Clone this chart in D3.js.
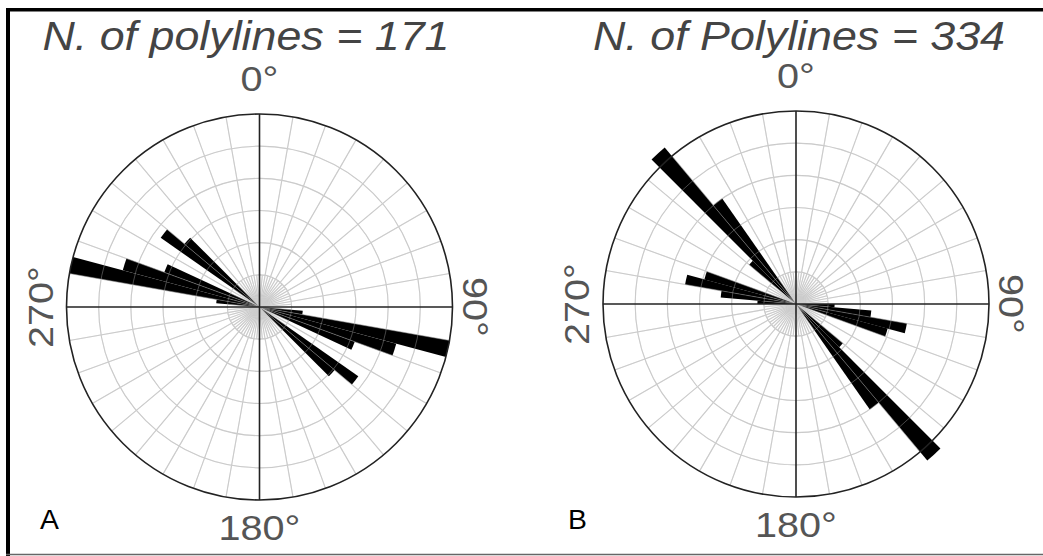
<!DOCTYPE html>
<html><head><meta charset="utf-8">
<script src="https://cdn.jsdelivr.net/npm/d3@7"></script>
<style>body{margin:0;background:#fff}svg{display:block}</style>
</head><body>
<svg id="chart" width="1043" height="556"></svg>
<script>
// Orientation frequencies in 5° bins (bin start bearing, 0–180°);
// the data are axial, so every bin is mirrored at +180°.
const binStartsA = [95, 100, 105, 110, 125, 130];
const valuesA    = [2.7, 12, 8.8, 6.3, 7.5, 6.1];
const binStartsB = [90, 95, 100, 105, 130, 135, 140];
const valuesB    = [2.4, 4.7, 7.0, 5.9, 3.8, 12.7, 8.0];
const titles = ["N. of polylines = 171", "N. of Polylines = 334"];
const panelLetters = ["A", "B"];
const directionLabels = ["0°", "90°", "180°", "270°"];
const ringValues = [2, 4, 6, 8, 10, 12];
const binWidth = 5;

const svg = d3.select("#chart");
const R = 193;
const rad = d => d * Math.PI / 180;
const FONT = "'Liberation Sans', Arial, sans-serif";

// frame
svg.append("rect").attr("x", 6).attr("y", 8).attr("width", 1037).attr("height", 3.5).attr("fill", "#000");
svg.append("rect").attr("x", 6).attr("y", 8).attr("width", 4).attr("height", 548).attr("fill", "#000");
svg.append("line").attr("x1", 6).attr("x2", 1043).attr("y1", 554.5).attr("y2", 554.5)
  .attr("stroke", "#666").attr("stroke-width", 1.5);

const panels = [
  {cx: 259.5, cy: 307, starts: binStartsA, values: valuesA, title: titles[0], letter: panelLetters[0],
   titleX: 246, letterX: 40},
  {cx: 796, cy: 304, starts: binStartsB, values: valuesB, title: titles[1], letter: panelLetters[1],
   titleX: 799, letterX: 568}
];

panels.forEach(p => {
  const r = d3.scaleLinear().domain([0, 12]).range([0, R]);
  const g = svg.append("g").attr("transform", `translate(${p.cx},${p.cy})`);
  const spokes = d3.range(0, 360, 10).filter(a => a % 90 !== 0);
  const fine = d3.range(5, 360, 10);

  // polar grid: rings and spokes
  const drawGrid = (layer, colour, width) => {
    layer.selectAll("circle.ring").data(ringValues.slice(0, -1)).join("circle")
      .attr("class", "ring").attr("r", d => r(d))
      .attr("fill", "none").attr("stroke", colour).attr("stroke-width", width);
    layer.selectAll("line.spoke").data(spokes).join("line")
      .attr("class", "spoke")
      .attr("x1", 0).attr("y1", 0)
      .attr("x2", d => R * Math.sin(rad(d))).attr("y2", d => -R * Math.cos(rad(d)))
      .attr("stroke", colour).attr("stroke-width", width);
    layer.selectAll("line.fine").data(fine).join("line")
      .attr("class", "fine")
      .attr("x1", 0).attr("y1", 0)
      .attr("x2", d => r(ringValues[0]) * Math.sin(rad(d)))
      .attr("y2", d => -r(ringValues[0]) * Math.cos(rad(d)))
      .attr("stroke", colour).attr("stroke-width", width);
  };
  drawGrid(g.append("g"), "#c6c6c6", 1.1);

  // petals: each bin and its opposite direction
  const bins = [];
  p.starts.forEach((s, i) => {
    bins.push({a0: s, v: p.values[i]});
    bins.push({a0: s + 180, v: p.values[i]});
  });
  const arc = d3.arc().innerRadius(0);
  g.selectAll("path.petal").data(bins).join("path")
    .attr("class", "petal")
    .attr("d", d => arc({outerRadius: r(d.v), startAngle: rad(d.a0), endAngle: rad(d.a0 + binWidth)}))
    .attr("fill", "#000");

  // faint grid trace across the petals
  drawGrid(g.append("g").attr("opacity", 0.55), "#d8d8d8", 0.6);

  // axes and outer circle
  g.append("line").attr("x1", -R).attr("x2", R).attr("y1", 0).attr("y2", 0)
    .attr("stroke", "#222").attr("stroke-width", 1.6);
  g.append("line").attr("x1", 0).attr("x2", 0).attr("y1", -R).attr("y2", R)
    .attr("stroke", "#222").attr("stroke-width", 1.6);
  g.append("circle").attr("r", R).attr("fill", "none").attr("stroke", "#222").attr("stroke-width", 1.6);

  // direction labels
  const lab = (txt, tf) => svg.append("text")
    .attr("transform", tf)
    .attr("text-anchor", "middle")
    .attr("font-family", FONT).attr("font-size", 36).attr("fill", "#555")
    .text(txt);
  lab(directionLabels[0], `translate(${p.cx},${p.cy - 216}) scale(1.1,1)`);
  lab(directionLabels[2], `translate(${p.cx},${p.cy + 233}) scale(1.1,1)`);
  lab(directionLabels[3], `translate(${p.cx - 207},${p.cy}) rotate(-90) scale(1.1,1)`);
  lab(directionLabels[1], `translate(${p.cx + 203},${p.cy}) rotate(90) scale(1.1,1)`);

  // title and panel letter
  svg.append("text")
    .attr("transform", `translate(${p.titleX},50) scale(1.12,1)`)
    .attr("text-anchor", "middle")
    .attr("font-family", FONT).attr("font-style", "italic").attr("font-size", 40).attr("fill", "#444")
    .text(p.title);
  svg.append("text")
    .attr("transform", `translate(${p.letterX},529) scale(1.05,1)`)
    .attr("font-family", FONT).attr("font-size", 27).attr("fill", "#000")
    .text(p.letter);
});
</script>
</body></html>
